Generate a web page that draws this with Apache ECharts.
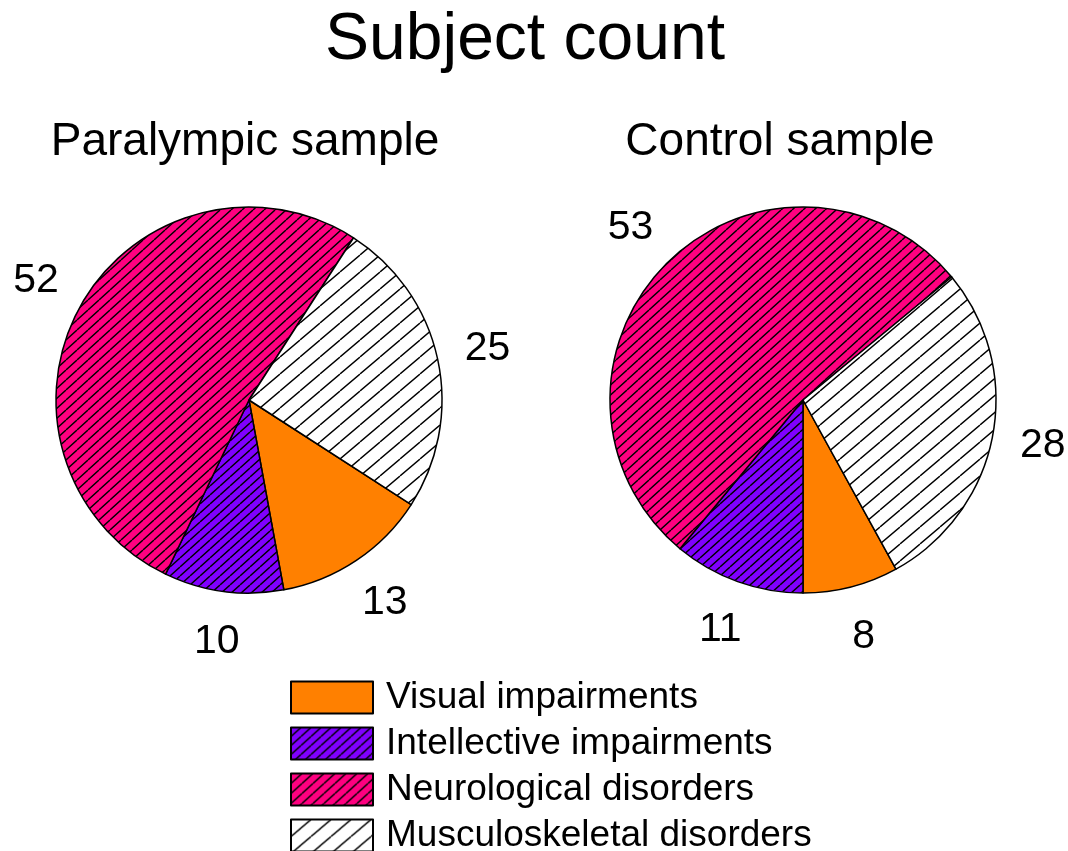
<!DOCTYPE html>
<html>
<head>
<meta charset="utf-8">
<script src="https://cdn.jsdelivr.net/npm/echarts@6/dist/echarts.min.js"></script>
<style>
html, body { margin: 0; padding: 0; background: #fff; }
#chart { width: 1068px; height: 851px; }
</style>
</head>
<body>
<div id="chart"></div>
<script>
var categories = ['Visual impairments', 'Intellective impairments', 'Neurological disorders', 'Musculoskeletal disorders'];
var paralympicCounts = [13, 10, 52, 25];
var controlCounts = [8, 11, 53, 28];
var sampleTitles = ['Paralympic sample', 'Control sample'];
var mainTitle = 'Subject count';

var FONT = 'Liberation Sans, Arial, sans-serif';

// diagonal hatch pattern drawn on a small canvas
function hatch(bg, w, h, lw) {
	var c = document.createElement('canvas');
	c.width = w;
	c.height = h;
	var ctx = c.getContext('2d');
	ctx.fillStyle = bg;
	ctx.fillRect(0, 0, w, h);
	ctx.strokeStyle = '#000';
	ctx.lineWidth = lw;
	ctx.beginPath();
	[-1, 0, 1].forEach(function(k) {
		ctx.moveTo(k * w, h);
		ctx.lineTo(k * w + w, 0);
	});
	ctx.stroke();
	return { image: c, repeat: 'repeat' };
}

var fills = [
	'#ff8000',
	hatch('#8000ff', 10, 9, 1.4),
	hatch('#ff0080', 11, 10, 1.4),
	hatch('#ffffff', 20, 17, 1.4)
];

function pieData(values) {
	return values.map(function(v, i) {
		return { name: categories[i], value: v, itemStyle: { color: fills[i] } };
	});
}

function ghostData(values) {
	return values.map(function(v, i) {
		return { name: categories[i], value: v };
	});
}

function pieSeries(values, center, startAngle) {
	return {
		type: 'pie',
		center: center,
		radius: [0, 193],
		startAngle: startAngle,
		clockwise: true,
		silent: true,
		label: { show: false },
		labelLine: { show: false },
		itemStyle: { borderColor: '#000', borderWidth: 1.5 },
		emphasis: { disabled: true },
		data: pieData(values)
	};
}

// transparent ring used only to place the count labels outside the pie
function labelSeries(values, center, startAngle) {
	return {
		type: 'pie',
		center: center,
		radius: [193, 289],
		startAngle: startAngle,
		clockwise: true,
		silent: true,
		legendHoverLink: false,
		avoidLabelOverlap: false,
		itemStyle: { color: 'rgba(0,0,0,0)', borderWidth: 0 },
		label: {
			show: true,
			position: 'inside',
			formatter: '{c}',
			fontSize: 41,
			fontFamily: FONT,
			color: '#000'
		},
		labelLine: { show: false },
		emphasis: { disabled: true },
		data: ghostData(values)
	};
}

var chart = echarts.init(document.getElementById('chart'), null, { renderer: 'canvas' });

chart.setOption({
	backgroundColor: '#fff',
	animation: false,
	graphic: [
		{ type: 'text', x: 525, y: 41, style: { text: mainTitle, font: '66px ' + FONT, fill: '#000', align: 'center', verticalAlign: 'middle' } },
		{ type: 'text', x: 245, y: 142, style: { text: sampleTitles[0], font: '46px ' + FONT, fill: '#000', align: 'center', verticalAlign: 'middle' } },
		{ type: 'text', x: 780, y: 142, style: { text: sampleTitles[1], font: '46px ' + FONT, fill: '#000', align: 'center', verticalAlign: 'middle' } }
	],
	legend: {
		orient: 'vertical',
		left: 290,
		top: 679,
		height: 200,
		padding: 0,
		itemWidth: 82,
		itemHeight: 32,
		itemGap: 9,
		icon: 'rect',
		selectedMode: false,
		data: categories,
		textStyle: {
			fontSize: 37,
			fontFamily: FONT,
			color: '#000',
			padding: [0, 0, 0, 8]
		}
	},
	series: [
		pieSeries(paralympicCounts, [249, 400], -32.8),
		pieSeries(controlCounts, [803, 400], -61.2),
		labelSeries(paralympicCounts, [249, 400], -32.8),
		labelSeries(controlCounts, [803, 400], -61.2)
	]
});
</script>
</body>
</html>
